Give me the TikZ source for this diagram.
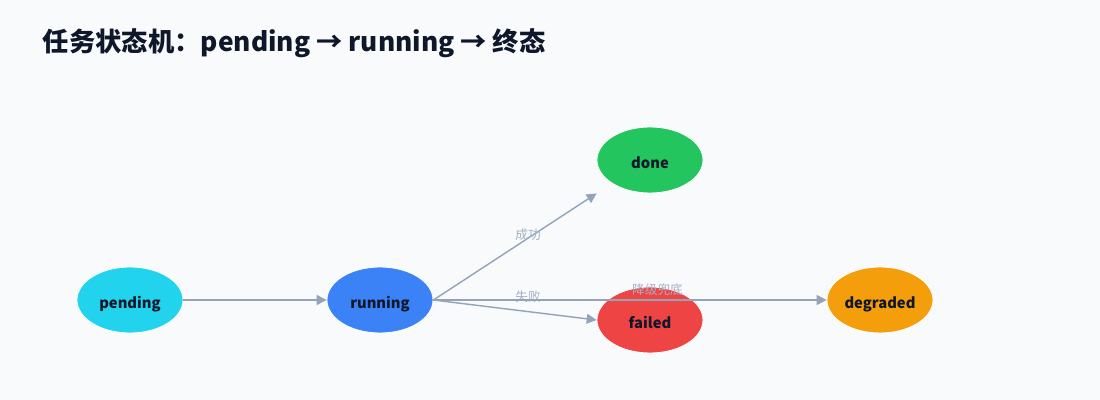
\documentclass[tikz,border=0pt]{standalone}
\usepackage{fontspec}
\setmainfont{Noto Sans CJK SC}
\usetikzlibrary{shapes.geometric,arrows.meta}
\definecolor{bgc}{HTML}{F8FAFC}
\definecolor{ink}{HTML}{0F172A}
\definecolor{edgec}{HTML}{94A3B8}
\definecolor{pendc}{HTML}{22D3EE}
\definecolor{runc}{HTML}{3B82F6}
\definecolor{donec}{HTML}{22C55E}
\definecolor{failc}{HTML}{EF4444}
\definecolor{degc}{HTML}{F59E0B}
\tikzset{
  state/.style={ellipse, draw=white, line width=.6pt, minimum width=2.65cm, minimum height=1.65cm,
    inner sep=0pt, text height=12.4pt, text depth=0pt, text=ink, font=\bfseries\fontsize{10.5}{12}\selectfont},
  trans/.style={draw=edgec, line width=1pt, -{Triangle[length=7pt,width=7pt]}},
  lbl/.style={text=edgec!85, font=\fontsize{9}{10}\selectfont, inner sep=1pt}
}
\begin{document}
\begin{tikzpicture}[x=0.025cm, y=-0.025cm]
\fill[bgc] (0,0) rectangle (1100,400);
\useasboundingbox (0,0) rectangle (1100,400);
\node[anchor=west, text=ink, font=\bfseries\fontsize{18.7}{22}\selectfont] (title) at (38,43) {任务状态机：pending → running → 终态};

% states
\node[state, fill=pendc] (pending) at (130,300) {pending};
\node[state, fill=runc] (running) at (380,300) {running};
\node[state, fill=donec] (done) at (650,160) {done};
\node[state, fill=failc] (failed) at (650,320) {failed};
\node[state, fill=degc] (degraded) at (880,300) {degraded};

% transitions
\draw[trans] (pending) -- (running);
\draw[trans] (running.east) -- node[lbl, pos=.58, above=-3.5pt]{成功} (done.west |- done.south);
\draw[trans] (running.east) -- node[lbl, pos=.58, above=5pt]{失败} (failed.west);
\draw[trans] (running.east) -- node[lbl, pos=.57, above=2pt]{降级兜底} (degraded.west);
\end{tikzpicture}
\end{document}
